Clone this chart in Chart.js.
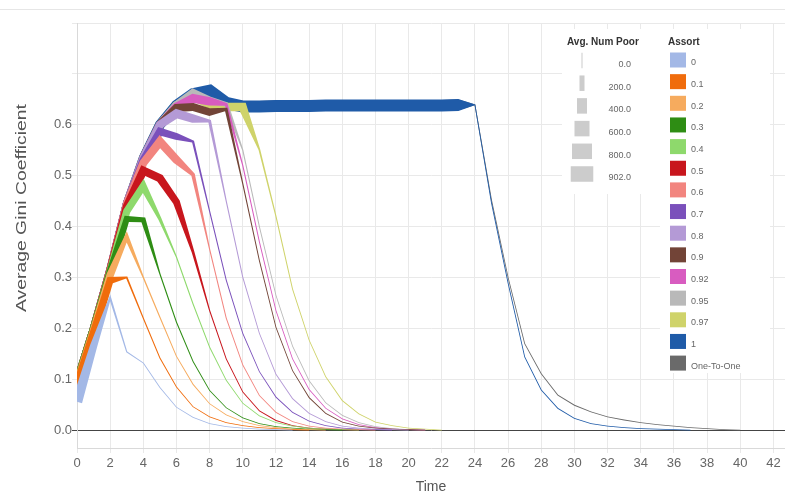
<!DOCTYPE html>
<html>
<head>
<meta charset="utf-8">
<script src="https://cdn.jsdelivr.net/npm/chart.js@4.4.0/dist/chart.umd.min.js"></script>
<style>
  html, body { margin: 0; padding: 0; background: #ffffff; }
  #wrap { width: 785px; height: 496px; position: relative; }
</style>
</head>
<body>
<div id="wrap"><canvas id="c" width="785" height="496"></canvas></div>
<script>
// ---------------- data ----------------
const assortLabels = ['0', '0.1', '0.2', '0.3', '0.4', '0.5', '0.6', '0.7', '0.8', '0.9', '0.92', '0.95', '0.97', '1', 'One-To-One'];

// Average Gini coefficient per time step (t = 0, 1, 2, ...)
const gini_0   = [0.056, 0.165, 0.260, 0.154, 0.132, 0.084, 0.045, 0.025, 0.013, 0.007, 0.004, 0.002, 0.001, 0.000];
const gini_01  = [0.082, 0.190, 0.295, 0.300, 0.220, 0.142, 0.085, 0.046, 0.026, 0.015, 0.009, 0.005, 0.003, 0.001, 0.000];
const gini_02  = [0.085, 0.195, 0.305, 0.380, 0.300, 0.222, 0.145, 0.090, 0.052, 0.030, 0.017, 0.009, 0.005, 0.002, 0.001, 0.000];
const gini_03  = [0.088, 0.198, 0.310, 0.415, 0.413, 0.307, 0.212, 0.135, 0.078, 0.044, 0.024, 0.013, 0.007, 0.004, 0.002, 0.001, 0.000];
const gini_04  = [0.088, 0.198, 0.312, 0.430, 0.480, 0.415, 0.340, 0.248, 0.163, 0.098, 0.053, 0.028, 0.015, 0.008, 0.004, 0.002, 0.001, 0.000];
const gini_05  = [0.088, 0.198, 0.314, 0.440, 0.510, 0.495, 0.448, 0.350, 0.235, 0.140, 0.075, 0.038, 0.019, 0.009, 0.004, 0.002, 0.001, 0.000];
const gini_06  = [0.088, 0.198, 0.315, 0.445, 0.525, 0.567, 0.531, 0.502, 0.355, 0.220, 0.128, 0.068, 0.035, 0.017, 0.008, 0.004, 0.002, 0.001, 0.000];
const gini_07  = [0.088, 0.198, 0.315, 0.445, 0.530, 0.587, 0.577, 0.567, 0.430, 0.295, 0.190, 0.115, 0.065, 0.035, 0.018, 0.009, 0.004, 0.002, 0.001, 0.000];
const gini_08  = [0.088, 0.198, 0.315, 0.445, 0.535, 0.600, 0.622, 0.612, 0.607, 0.450, 0.300, 0.190, 0.110, 0.062, 0.033, 0.017, 0.008, 0.004, 0.002, 0.001, 0.000];
const gini_09  = [0.088, 0.198, 0.315, 0.445, 0.535, 0.600, 0.633, 0.635, 0.625, 0.630, 0.484, 0.333, 0.202, 0.117, 0.064, 0.033, 0.016, 0.008, 0.004, 0.002, 0.001, 0.000];
const gini_092 = [0.088, 0.198, 0.315, 0.445, 0.535, 0.600, 0.635, 0.652, 0.646, 0.640, 0.520, 0.370, 0.235, 0.140, 0.080, 0.043, 0.022, 0.011, 0.005, 0.002, 0.001, 0.000];
const gini_095 = [0.088, 0.198, 0.315, 0.445, 0.535, 0.600, 0.638, 0.662, 0.648, 0.640, 0.550, 0.400, 0.265, 0.165, 0.097, 0.054, 0.029, 0.015, 0.007, 0.003, 0.001, 0.000];
const gini_097 = [0.088, 0.198, 0.315, 0.445, 0.535, 0.600, 0.638, 0.655, 0.640, 0.635, 0.635, 0.551, 0.420, 0.277, 0.177, 0.105, 0.058, 0.032, 0.016, 0.009, 0.004, 0.002, 0.000];
const gini_1   = [0.088, 0.198, 0.315, 0.445, 0.535, 0.600, 0.638, 0.660, 0.666, 0.643, 0.636, 0.636, 0.637, 0.637, 0.637, 0.638, 0.638, 0.638, 0.638, 0.638, 0.638, 0.638, 0.638, 0.639, 0.639,
                  0.446, 0.289, 0.144, 0.079, 0.043, 0.023, 0.013, 0.008, 0.005, 0.003, 0.002, 0.001, 0.000];
const gini_oto = [0.088, 0.198, 0.315, 0.445, 0.535, 0.600, 0.638, 0.658, 0.664, 0.642, 0.636, 0.636, 0.637, 0.637, 0.637, 0.638, 0.638, 0.638, 0.638, 0.638, 0.638, 0.638, 0.638, 0.639, 0.639,
                  0.452, 0.300, 0.170, 0.111, 0.069, 0.049, 0.036, 0.026, 0.020, 0.015, 0.011, 0.008, 0.005, 0.003, 0.001, 0.000];

// Average number of poor agents per time step (drives the ribbon width)
const poor_0   = [420, 290, 110, 45, 40, 36, 30, 25, 20, 15, 10, 6, 3, 0];
const poor_01  = [400, 320, 280, 70, 45, 40, 36, 30, 25, 20, 15, 10, 5, 2, 0];
const poor_02  = [400, 320, 300, 180, 55, 45, 40, 35, 30, 25, 20, 15, 10, 5, 2, 0];
const poor_03  = [400, 320, 300, 240, 200, 50, 42, 38, 33, 28, 22, 16, 11, 6, 3, 1, 0];
const poor_04  = [400, 320, 300, 290, 280, 130, 50, 42, 38, 33, 28, 22, 16, 11, 6, 3, 1, 0];
const poor_05  = [400, 320, 310, 310, 330, 320, 280, 110, 45, 40, 33, 26, 20, 14, 8, 4, 1, 0];
const poor_06  = [400, 320, 310, 310, 320, 340, 330, 150, 45, 40, 33, 26, 20, 14, 8, 4, 2, 1, 0];
const poor_07  = [400, 320, 310, 310, 320, 300, 280, 90, 45, 40, 33, 26, 20, 14, 8, 4, 2, 1, 0, 0];
const poor_08  = [400, 320, 310, 310, 320, 330, 360, 340, 120, 45, 40, 33, 26, 20, 14, 8, 4, 2, 1, 0, 0];
const poor_09  = [400, 320, 310, 310, 320, 330, 330, 320, 300, 120, 45, 38, 30, 24, 18, 12, 7, 4, 2, 1, 0, 0];
const poor_092 = [400, 320, 310, 310, 320, 330, 340, 350, 330, 120, 45, 38, 30, 24, 18, 12, 7, 4, 2, 1, 0, 0];
const poor_095 = [400, 320, 310, 310, 320, 330, 340, 340, 300, 180, 45, 38, 30, 24, 18, 12, 7, 4, 2, 1, 0, 0];
const poor_097 = [400, 320, 310, 310, 320, 330, 340, 340, 340, 340, 340, 70, 45, 38, 30, 24, 18, 12, 7, 4, 2, 1, 0];
const poor_1   = [400, 320, 310, 320, 360, 400, 440, 480, 520, 490, 480, 480, 480, 480, 480, 480, 480, 480, 480, 480, 480, 480, 480, 480,
                  30, 25, 20, 16, 12, 9, 6, 4, 3, 2, 1, 1, 0, 0];
const poor_oto = [380, 300, 290, 300, 340, 380, 420, 440, 460, 440, 430, 430, 430, 430, 430, 430, 430, 430, 430, 430, 430, 430, 430, 430,
                  30, 28, 24, 20, 16, 13, 10, 8, 6, 5, 4, 3, 2, 1, 1, 0, 0];

const sizeLegendValues = [0, 200, 400, 600, 800, 902];
const xTickValues = [0, 2, 4, 6, 8, 10, 12, 14, 16, 18, 20, 22, 24, 26, 28, 30, 32, 34, 36, 38, 40, 42];
const yTickValues = [0, 0.1, 0.2, 0.3, 0.4, 0.5, 0.6, 0.7, 0.8];

const seriesGini = [gini_0, gini_01, gini_02, gini_03, gini_04, gini_05, gini_06, gini_07, gini_08, gini_09, gini_092, gini_095, gini_097, gini_1, gini_oto];
const seriesPoor = [poor_0, poor_01, poor_02, poor_03, poor_04, poor_05, poor_06, poor_07, poor_08, poor_09, poor_092, poor_095, poor_097, poor_1, poor_oto];

// ---------------- styles ----------------
const seriesColors = ['#a3b8e6', '#f06c0c', '#f6ab5e', '#2e8d14', '#8ed96c', '#c8161d', '#f2857f', '#7a50bb',
                      '#b49ad6', '#724437', '#d85cc0', '#b9b9b9', '#cfd36a', '#1f5ba8', '#6a6a6a'];
const PX_PER_POOR = 0.025;   // ribbon width scale (902 -> ~22.5px)
const MIN_PX = 0.85;
const FONT = '"Liberation Sans", Arial, Helvetica, sans-serif';
Chart.defaults.font.family = FONT;

// Build the variable-width ribbon (trail) outline for a series, using the chart's scales.
function trailPolygon(chart, values, poor) {
  const xS = chart.scales.x, yS = chart.scales.y;
  const P = values.map((v, i) => ({ x: xS.getPixelForValue(i), y: yS.getPixelForValue(v) }));
  const n = P.length;
  const segN = [];
  for (let i = 0; i < n - 1; i++) {
    const dx = P[i + 1].x - P[i].x, dy = P[i + 1].y - P[i].y;
    const L = Math.hypot(dx, dy) || 1;
    segN.push({ x: -dy / L, y: dx / L });
  }
  const left = [], right = [];
  for (let i = 0; i < n; i++) {
    const h = Math.max(poor[i] * PX_PER_POOR, MIN_PX) / 2;
    let nx, ny, m;
    if (i === 0) { nx = segN[0].x; ny = segN[0].y; m = h; }
    else if (i === n - 1) { nx = segN[n - 2].x; ny = segN[n - 2].y; m = h; }
    else {
      const a = segN[i - 1], b = segN[i];
      let sx = a.x + b.x, sy = a.y + b.y;
      const L = Math.hypot(sx, sy);
      if (L < 1e-6) { sx = a.x; sy = a.y; } else { sx /= L; sy /= L; }
      const c = sx * a.x + sy * a.y;
      m = h / Math.max(c, 0.4);
      nx = sx; ny = sy;
    }
    left.push({ x: P[i].x + nx * m, y: P[i].y + ny * m });
    right.push({ x: P[i].x - nx * m, y: P[i].y - ny * m });
  }
  const poly = left.concat(right.reverse());
  return poly.map(p => ({ x: xS.getValueForPixel(p.x), y: yS.getValueForPixel(p.y) }));
}

// frame line + y axis title
const framePlugin = {
  id: 'frame',
  beforeDraw(chart) {
    const ctx = chart.ctx;
    ctx.save();
    ctx.fillStyle = '#ffffff';
    ctx.fillRect(0, 0, chart.width, chart.height);
    ctx.fillStyle = '#e6e6e6';
    ctx.fillRect(0, 9, chart.width, 1);
    ctx.restore();
  },
  afterDraw(chart) {
    const ctx = chart.ctx;
    const t = 'Average Gini Coefficient';
    ctx.save();
    ctx.translate(22, 208);
    ctx.rotate(-Math.PI / 2);
    ctx.font = '14px ' + FONT;
    const w = ctx.measureText(t).width;
    ctx.scale(208 / w, 1);
    ctx.textAlign = 'center';
    ctx.textBaseline = 'middle';
    ctx.fillStyle = '#555555';
    ctx.fillText(t, 0, 0);
    ctx.restore();
  }
};

// legends (size + colour)
const legendPlugin = {
  id: 'customLegends',
  afterDatasetsDraw(chart) {
    const ctx = chart.ctx;
    ctx.save();
    ctx.fillStyle = '#ffffff';
    ctx.fillRect(562, 29, 98, 165);
    ctx.fillRect(660, 29, 110, 344);

    ctx.textBaseline = 'middle';
    ctx.fillStyle = '#333333';
    ctx.font = 'bold 10px ' + FONT;
    ctx.textAlign = 'left';
    ctx.fillText('Avg. Num Poor', 567, 42);
    ctx.fillText('Assort', 668, 42);

    ctx.font = '9px ' + FONT;
    sizeLegendValues.forEach((v, i) => {
      const cy = 60.5 + i * 22.7;
      const w = Math.max(v * PX_PER_POOR, 1);
      ctx.fillStyle = '#cccccc';
      ctx.fillRect(582 - w / 2, cy - 7.75, w, 15.5);
      ctx.fillStyle = '#666666';
      ctx.textAlign = 'right';
      ctx.fillText(v.toFixed(1), 631, cy + 4);
    });

    assortLabels.forEach((lab, i) => {
      const cy = 60 + i * 21.65;
      ctx.fillStyle = seriesColors[i];
      ctx.fillRect(670, cy - 7.5, 16, 15);
      ctx.fillStyle = '#666666';
      ctx.textAlign = 'left';
      ctx.fillText(lab, 691, cy + 3);
    });
    ctx.restore();
  }
};

const ctx = document.getElementById('c').getContext('2d');
const chart = new Chart(ctx, {
  type: 'line',
  data: {
    datasets: assortLabels.map((lab, i) => ({
      label: lab,
      data: [],
      backgroundColor: seriesColors[i],
      borderColor: seriesColors[i],
      borderWidth: 0,
      pointRadius: 0,
      pointHoverRadius: 0,
      fill: 'shape',
      tension: 0,
      borderDash: [4, 0]
    }))
  },
  options: {
    responsive: false,
    animation: false,
    events: [],
    layout: { padding: { top: 23, left: 0, right: 0, bottom: 0 } },
    plugins: { legend: { display: false }, tooltip: { enabled: false } },
    scales: {
      x: {
        type: 'linear',
        min: 0,
        max: 42.7,
        afterBuildTicks: (axis) => { axis.ticks = xTickValues.map(v => ({ value: v })); },
        afterFit: (s) => { s.height = 48; },
        grid: { color: '#e9e9e9', tickLength: 5 },
        border: { color: '#d9d9d9' },
        ticks: { color: '#666666', font: { size: 13 }, padding: 3, maxRotation: 0, autoSkip: false },
        title: { display: true, text: 'Time', color: '#555555', font: { size: 14 }, padding: 0 }
      },
      y: {
        type: 'linear',
        min: -0.035,
        max: 0.8,
        afterBuildTicks: (axis) => { axis.ticks = yTickValues.map(v => ({ value: v })); },
        afterFit: (s) => { s.width = 77; },
        grid: {
          color: (c) => (c.tick && Math.abs(c.tick.value) < 1e-9) ? '#444444' : '#e9e9e9',
          tickLength: 5
        },
        border: { color: '#d9d9d9' },
        ticks: {
          color: '#666666', font: { size: 13 }, padding: 0,
          callback: (v) => (v <= 0.6 + 1e-9 ? Number(v).toFixed(1) : '')
        }
      }
    }
  },
  plugins: [framePlugin, legendPlugin]
});

chart.data.datasets.forEach((ds, i) => { ds.data = trailPolygon(chart, seriesGini[i], seriesPoor[i]); });
chart.update('none');
</script>
</body>
</html>
